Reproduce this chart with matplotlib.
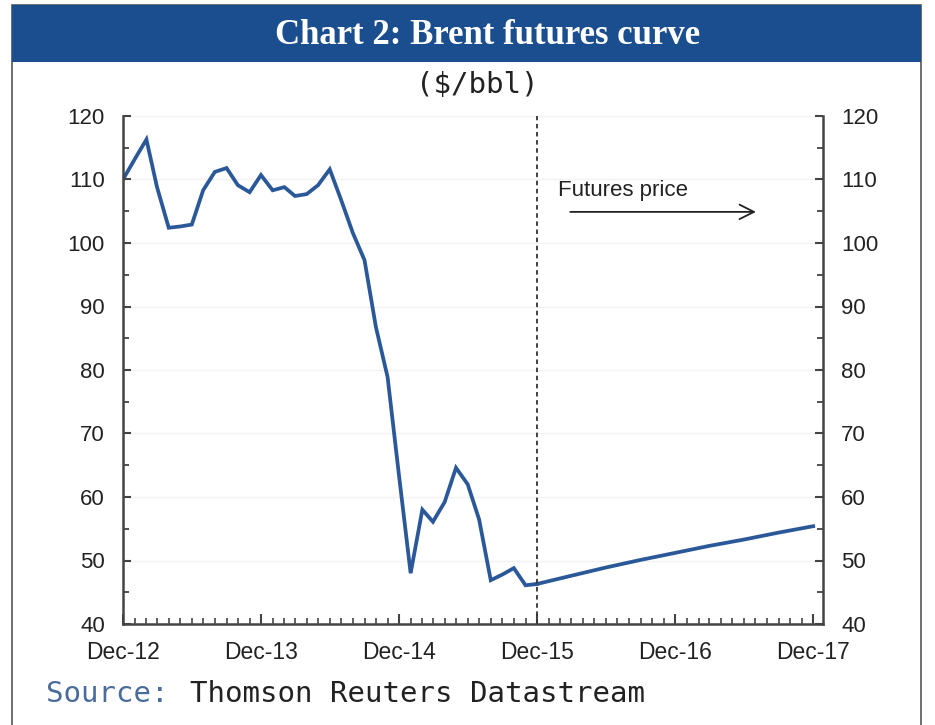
import numpy as np
import pandas as pd
import matplotlib
matplotlib.use("Agg")
import matplotlib.pyplot as plt
import matplotlib.dates as mdates
from matplotlib.patches import Rectangle
from matplotlib.ticker import MultipleLocator

# ---------- data ----------
# monthly Brent spot, Dec-12 .. Dec-15
spot_dates = pd.date_range("2012-12-01", "2015-12-01", freq="MS")
spot_price = [110.0, 113.2, 116.3, 108.8, 102.4, 102.6, 102.9, 108.3, 111.2, 111.8,
              109.1, 108.0, 110.7, 108.3, 108.8, 107.4, 107.7, 109.1, 111.6, 106.8,
              101.6, 97.3, 86.8, 78.9, 63.5, 48.0, 58.0, 56.1, 59.2, 64.6,
              62.0, 56.5, 46.9, 47.8, 48.8, 46.1, 46.3]

# futures curve, Dec-15 .. Dec-17 (quarterly)
fut_dates = pd.to_datetime(["2015-12-01", "2016-03-01", "2016-06-01", "2016-09-01",
                            "2016-12-01", "2017-03-01", "2017-06-01", "2017-09-01",
                            "2017-12-01"])
fut_price = [46.3, 47.6, 48.9, 50.1, 51.2, 52.3, 53.3, 54.4, 55.4]

title = "Chart 2: Brent futures curve"
unit = "($/bbl)"
line_col = "#2a5898"
bar_col = "#1b4e8e"
spine_col = "#444444"

fig = plt.figure(figsize=(9.35, 7.25), dpi=100)
W, H = 935, 725

# outer frame + title bar (pixel coords -> figure fraction)
fig.patches.append(Rectangle((12 / W, -0.02), (921 - 12) / W, 1 - 5 / H + 0.02,
                             transform=fig.transFigure, fill=False,
                             edgecolor="#555555", lw=1.2))
fig.patches.append(Rectangle((12 / W, 1 - 62 / H), (921 - 12) / W, 57 / H,
                             transform=fig.transFigure, facecolor=bar_col,
                             edgecolor="none"))
fig.text(488 / W, 1 - 35 / H, title, ha="center", va="center", color="white",
         fontsize=25, fontweight="bold", family="Liberation Serif")
fig.text(477 / W, 1 - 85 / H, unit, ha="center", va="center", color="#222222",
         fontsize=21, family="DejaVu Sans Mono")

ax = fig.add_axes([123 / W, 1 - 624 / H, (823 - 123) / W, (624 - 116) / H])

ax.plot(spot_dates, spot_price, color=line_col, lw=2.7, solid_joinstyle="miter")
ax.plot(fut_dates, fut_price, color=line_col, lw=2.7)

split = pd.Timestamp("2015-12-01")
ax.axvline(split, color="#333333", lw=1.3, ls=(0, (2.5, 2)))

ax.set_ylim(40, 120)
ax.set_xlim(pd.Timestamp("2012-12-01"), pd.Timestamp("2017-12-27"))

ax.yaxis.set_major_locator(MultipleLocator(10))
ax.yaxis.set_minor_locator(MultipleLocator(5))
ax.xaxis.set_major_locator(mdates.MonthLocator(bymonth=12))
ax.xaxis.set_minor_locator(mdates.MonthLocator())
ax.xaxis.set_major_formatter(mdates.DateFormatter("%b-%y"))

ax.grid(axis="y", color="#f2f2f2", lw=1)
ax.set_axisbelow(True)

for s in ["left", "right", "bottom"]:
    ax.spines[s].set_color(spine_col)
    ax.spines[s].set_linewidth(1.8)
ax.spines["top"].set_visible(False)

ax.tick_params(axis="y", which="both", direction="in", color=spine_col,
               left=True, right=True, labelleft=True, labelright=True,
               labelsize=16, labelcolor="#222222", pad=13)
ax.tick_params(axis="y", which="major", length=6, width=1.5)
ax.tick_params(axis="y", which="minor", length=4, width=1.3)
ax.tick_params(axis="x", which="both", direction="in", color=spine_col,
               labelsize=16.5, labelcolor="#222222", pad=12)
ax.tick_params(axis="x", which="major", length=7, width=1.5)
ax.tick_params(axis="x", which="minor", length=4, width=1.2)
for lab in ax.get_xticklabels() + ax.get_yticklabels():
    lab.set_family("Liberation Sans")

# futures annotation
ax.annotate("", xy=(pd.Timestamp("2017-07-10"), 104.9),
            xytext=(pd.Timestamp("2016-02-20"), 104.9),
            arrowprops=dict(arrowstyle="->", color="#222222", lw=1.3,
                            mutation_scale=26))
ax.text(pd.Timestamp("2016-01-25"), 108.2, "Futures price", fontsize=16,
        family="Liberation Sans", color="#222222", va="center")

# source line
fig.text(46 / W, 1 - 694 / H, "Source:", color="#4a6c9c", fontsize=21,
         family="DejaVu Sans Mono", va="center")
fig.text(190 / W, 1 - 694 / H, "Thomson Reuters Datastream", color="#222222",
         fontsize=21, family="DejaVu Sans Mono", va="center")

fig.savefig("out.png", dpi=100, facecolor="white")
